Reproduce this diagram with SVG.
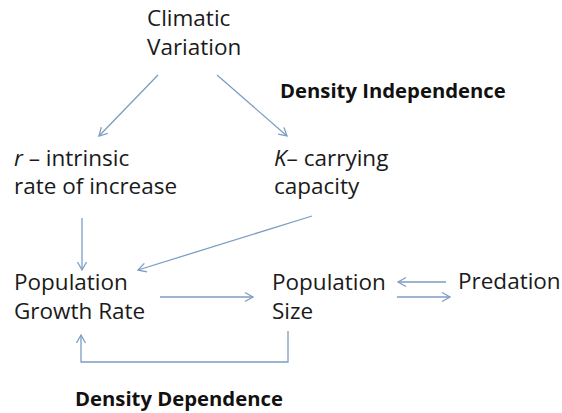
<svg xmlns="http://www.w3.org/2000/svg" width="562" height="413" viewBox="0 0 562 413">
<defs>
<style>
.t{font-family:"Open Sans","Noto Sans",sans-serif;font-size:22.5px;fill:#1a1a1a}
.b{font-family:"Open Sans","Noto Sans",sans-serif;font-size:20.3px;font-weight:bold;fill:#111}
.c{fill:none;stroke:#7d9dc2;stroke-width:1.3}
</style>
<marker id="ah" markerUnits="userSpaceOnUse" markerWidth="14" markerHeight="14" viewBox="-10 -7 12 14" refX="0" refY="0" orient="auto">
<path d="M-8,-4.5 L0,0 L-8,4.5" fill="none" stroke="#7d9dc2" stroke-width="1.3"/>
</marker>
</defs>
<rect width="562" height="413" fill="#fff"/>
<g id="connectors">
<line class="c" x1="158" y1="75" x2="99" y2="136" marker-end="url(#ah)"/>
<line class="c" x1="217" y1="75" x2="287" y2="136" marker-end="url(#ah)"/>
<line class="c" x1="82" y1="218" x2="82" y2="270" marker-end="url(#ah)"/>
<line class="c" x1="312" y1="216" x2="138" y2="270" marker-end="url(#ah)"/>
<line class="c" x1="160" y1="297" x2="253" y2="297" marker-end="url(#ah)"/>
<line class="c" x1="446" y1="282" x2="398" y2="282" marker-end="url(#ah)"/>
<line class="c" x1="397" y1="297" x2="450" y2="297" marker-end="url(#ah)"/>
<polyline class="c" points="288,331 288,362 81,362 81,335" marker-end="url(#ah)"/>
</g>
<g id="climatic"><text class="t" x="147" y="26">Climatic</text><text class="t" x="147" y="54.5">Variation</text></g>
<g id="density-independence"><text class="b" x="280" y="98">Density Independence</text></g>
<g id="r"><text class="t" x="14" y="166"><tspan font-style="italic">r</tspan> – intrinsic</text><text class="t" x="14" y="194">rate of increase</text></g>
<g id="k"><text class="t" x="274" y="166"><tspan font-style="italic">K</tspan>– carrying</text><text class="t" x="274" y="194">capacity</text></g>
<g id="growth-rate"><text class="t" x="14" y="290">Population</text><text class="t" x="14" y="319">Growth Rate</text></g>
<g id="pop-size"><text class="t" x="272" y="290">Population</text><text class="t" x="272" y="319">Size</text></g>
<g id="predation"><text class="t" x="458" y="289">Predation</text></g>
<g id="density-dependence"><text class="b" x="75" y="406">Density Dependence</text></g>
</svg>
